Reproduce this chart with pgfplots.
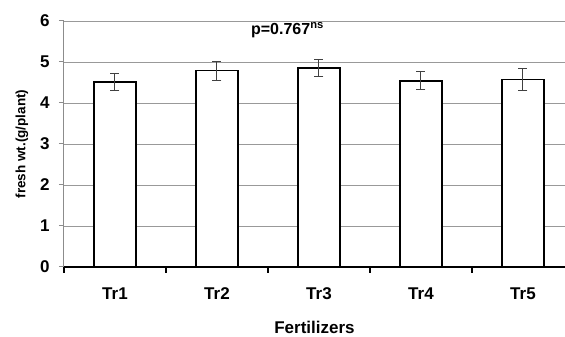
\documentclass[border=0pt]{standalone}
\usepackage{pgfplots}
\pgfplotsset{compat=1.18}
\usepackage{fontspec}
\setmainfont{Liberation Sans}

\pgfplotstableread{
x  y     err
0  4.51  0.20
1  4.79  0.23
2  4.85  0.20
3  4.54  0.22
4  4.57  0.26
}\freshwt

\begin{document}
\begin{tikzpicture}
\begin{axis}[
  scale only axis,
  width=501pt, height=246pt,
  xmin=-0.5, xmax=4.412,
  ymin=0, ymax=6,
  axis lines=left,
  axis line style={-},
  x axis line style={black, line width=1.6pt},
  y axis line style={black!45, line width=1pt},
  tick align=outside,
  xtick={0,1,2,3,4},
  xticklabels={Tr1,Tr2,Tr3,Tr4,Tr5},
  major x tick style={draw=none},
  minor xtick={-0.5,0.5,1.5,2.5,3.5,4.5},
  minor x tick style={black, line width=1.6pt},
  minor tick length=6pt,
  ytick={0,1,...,6},
  major y tick style={black!45, line width=1pt},
  major tick length=5pt,
  ymajorgrids,
  grid style={black!40, line width=0.9pt},
  /pgf/number format/assume math mode=true,
  ticklabel style={font=\fontsize{17}{19}\selectfont\bfseries, text=black},
  xticklabel style={anchor=north, yshift=-12pt},
  yticklabel style={anchor=east, xshift=-6pt},
  xlabel={Fertilizers},
  xlabel style={at={(axis description cs:0.5,0)}, anchor=center, yshift=-60pt,
    font=\fontsize{17}{19}\selectfont\bfseries},
  ylabel={fresh wt.(g/plant)},
  ylabel style={at={(axis description cs:0,0.5)}, anchor=center, yshift=42pt,
    font=\fontsize{13.5}{15}\selectfont\bfseries},
]
\addplot[ybar, bar width=42pt, fill=white, draw=black, line width=1.6pt,
  error bars/.cd, y dir=both, y explicit,
  error bar style={black!75, line width=1pt},
  error mark options={rotate=90, mark size=4.5pt, black!75, line width=1pt}]
  table[x=x, y=y, y error=err] {\freshwt};
\node[anchor=west, font=\fontsize{16}{18}\selectfont\bfseries]
  at (axis cs:1.30,5.78) {p=0.767\textsuperscript{ns}};
\coordinate (bl) at (rel axis cs:0,0);
\coordinate (tr) at (rel axis cs:1,1);
\end{axis}
\pgfresetboundingbox
\useasboundingbox ([xshift=-64pt,yshift=-70pt]bl) rectangle ([yshift=21pt]tr);
\end{tikzpicture}
\end{document}
